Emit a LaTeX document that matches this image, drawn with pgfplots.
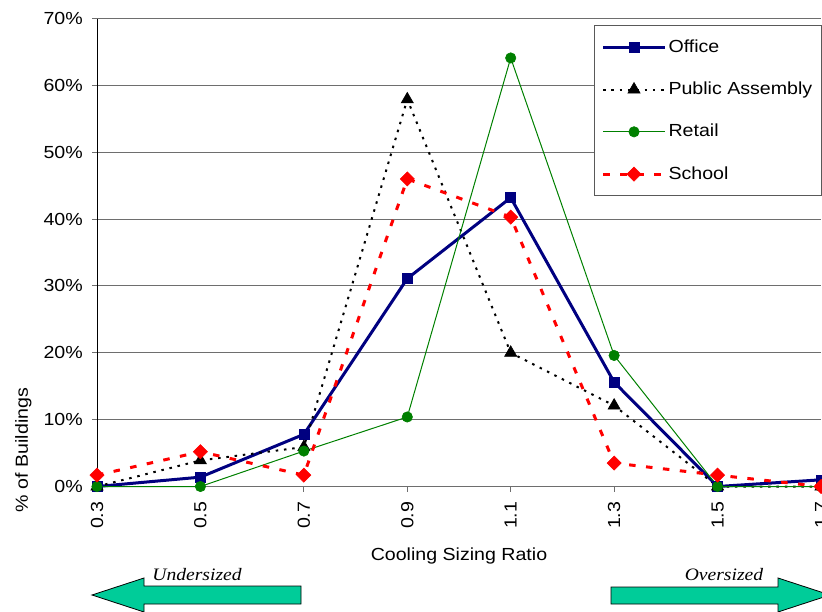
\documentclass[border=0pt]{standalone}
\usepackage{fontspec}
\setmainfont{Liberation Sans}[FakeStretch=1.12]
\newfontfamily\serifit{Liberation Serif}[FakeStretch=1.12]
\usepackage{pgfplots}
\usepackage{pgfplotstable}
\pgfplotsset{compat=1.18}

\definecolor{officeblue}{RGB}{0,0,128}
\definecolor{retailgreen}{RGB}{0,128,0}
\definecolor{arrowteal}{RGB}{0,204,153}
\definecolor{gridgray}{RGB}{110,110,110}

% share of buildings (%) per cooling sizing ratio bin
\pgfplotstableread{
ratio office assembly retail school
0.3   0.0    0.0     0.0    1.7
0.5   1.4    3.9     0.0    5.2
0.7   7.8    5.9     5.3    1.7
0.9   31.1   57.9    10.4   46.0
1.1   43.2   20.0    64.1   40.3
1.3   15.6   12.1    19.6   3.5
1.5   0.0    0.0     0.0    1.7
1.7   1.0    0.0     0.0    0.0
}\sizing

\begin{document}
\fontsize{17.5}{21}\selectfont
\begin{tikzpicture}
\begin{axis}[
  at={(97pt,124.5pt)}, anchor=south west,
  scale only axis, width=724pt, height=468pt,
  xmin=0.3, xmax=1.7, ymin=0, ymax=70,
  axis lines*=left, clip=false,
  x axis line style={gridgray, line width=1pt},
  y axis line style={black, line width=1pt},
  ymajorgrids, major grid style={gridgray, line width=1pt},
  tick align=outside, major tick length=5pt,
  tick style={gridgray, line width=1pt},
  xtick={0.3,0.5,0.7,0.9,1.1,1.3,1.5,1.7},
  xticklabels={0.3,0.5,0.7,0.9,1.1,1.3,1.5,1.7},
  ytick={0,10,20,30,40,50,60,70},
  yticklabels={0\%,10\%,20\%,30\%,40\%,50\%,60\%,70\%},
  xticklabel style={rotate=90, anchor=east, inner sep=0pt},
  yticklabel style={anchor=east, inner sep=0pt},
  xticklabel shift=10pt,
  yticklabel shift=9pt,
  xlabel={Cooling Sizing Ratio},
  xlabel style={at={(axis description cs:0.5,0)}, anchor=base, yshift=-73.5pt},
  legend style={at={(0.6865,0.986)}, anchor=north west,
    draw=black!65, line width=1pt, fill=white,
    inner xsep=7pt, inner ysep=12pt, row sep=23pt,
    nodes={inner xsep=2pt, inner ysep=2pt}},
  legend cell align=left,
  legend image code/.code={\draw[mark repeat=2,mark phase=2,#1] plot coordinates {(0pt,0pt)(31pt,0pt)(62pt,0pt)};},
]
\addplot[officeblue, line width=3pt, mark=square*, mark size=5pt,
  mark options={solid, line width=0.6pt}] table[x=ratio, y=office]{\sizing};
\addlegendentry{Office}
\addplot[black, line width=2pt, dash pattern=on 2.5pt off 5.8pt, mark=triangle*, mark size=7pt,
  mark options={solid, line width=0.6pt}] table[x=ratio, y=assembly]{\sizing};
\addlegendentry{Public Assembly}
\addplot[retailgreen, line width=1pt, mark=*, mark size=5.2pt,
  mark options={solid, line width=0.6pt}] table[x=ratio, y=retail]{\sizing};
\addlegendentry{Retail}
\addplot[red, line width=3pt, dash pattern=on 6.5pt off 10.5pt, mark=square*, mark size=5pt,
  mark options={solid, rotate=45, line width=0.6pt}] table[x=ratio, y=school]{\sizing};
\addlegendentry{School}
\end{axis}

% axis title on the left
\node[rotate=90, anchor=base] at (28pt,161pt) {\% of Buildings};

% direction arrows below the axis
\draw[black, line width=0.8pt, fill=arrowteal]
  (92pt,16pt) -- (144pt,33pt) -- (144pt,25pt) -- (301pt,25pt)
  -- (301pt,7pt) -- (144pt,7pt) -- (144pt,-1pt) -- cycle;
\draw[black, line width=0.8pt, fill=arrowteal]
  (611pt,7pt) -- (611pt,24pt) -- (778pt,24pt) -- (778pt,33pt)
  -- (830pt,16pt) -- (778pt,-1pt) -- (778pt,7pt) -- cycle;
\node[anchor=base, font=\serifit\itshape] at (197pt,31pt) {Undersized};
\node[anchor=base, font=\serifit\itshape] at (724pt,30.5pt) {Oversized};

\pgfresetboundingbox
\path[use as bounding box] (0pt,0pt) rectangle (822pt,611pt);
\end{tikzpicture}
\end{document}
